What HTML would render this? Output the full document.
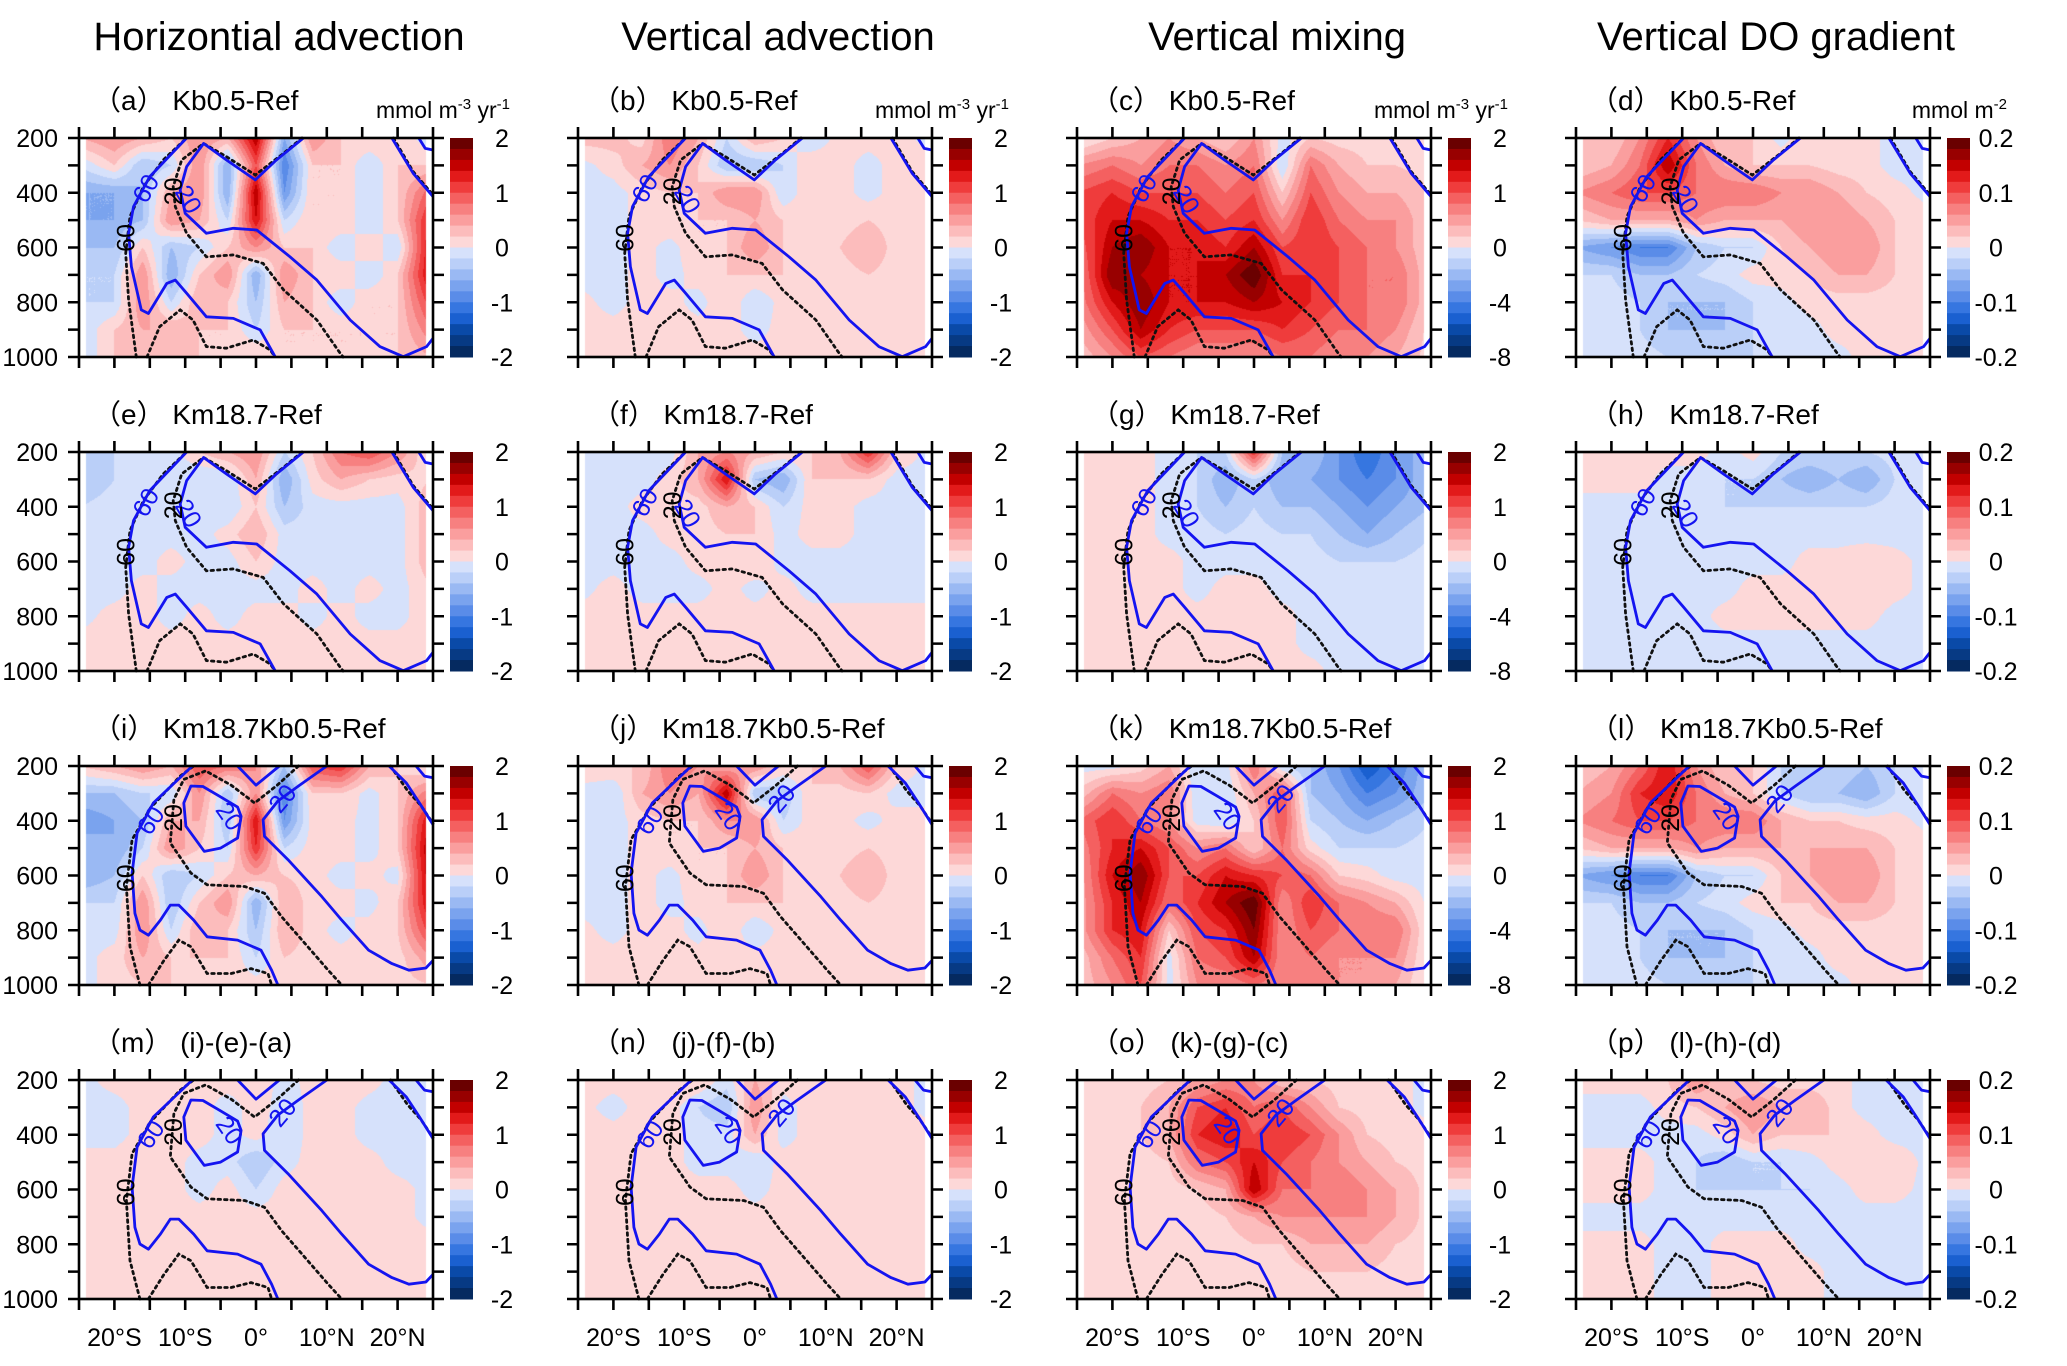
<!DOCTYPE html>
<html><head><meta charset="utf-8">
<style>
html,body{margin:0;padding:0;background:#fff;}
#wrap{position:relative;width:2067px;height:1366px;overflow:hidden;background:#fff;font-family:"Liberation Sans","Noto Sans CJK SC",sans-serif;}
canvas{position:absolute;}
svg{position:absolute;left:0;top:0;}
</style></head>
<body>
<div id="wrap">
<svg id="svg" width="2067" height="1366"></svg>
</div>
<script>
// grid axes
const LATS=[-25,-20,-16,-12,-8,-4,0,4,8,12,16,20,25];
const DEPTHS=[200,300,400,500,600,700,800,900,1000];
// field values in colorbar levels (-10..10 = colorbar min..max)
const levels_a=[[2,3,2,1,3,2,8,-3,3,1,1,1,-1],[-1,1,-2,-1,3,-3,5,-5,1,1,-1,1,1],[-3,-3,-2,2,3,-3,8,-4,1,1,-1,1,5],[-3,-3,-2,3,2,-1,7,-1,1,1,-1,1,7],[-2,-2,1,-2,-1,1,3,1,1,-1,1,-1,8],[-1,-1,3,-3,1,3,-3,3,1,1,-1,1,8],[-1,-1,3,-1,2,1,-2,2,1,-1,1,1,6],[-1,1,2,2,1,1,-1,1,1,1,1,1,4],[-1,1,1,1,1,1,1,1,1,1,1,1,2]];
const levels_b=[[1.5,1.5,0.5,4,2,-1,2,1,-1,0.5,0.5,0.5,-0.5],[-0.5,0.5,2,3,1,-2,-2,-1,1,0.5,-0.5,0.5,0.5],[-0.5,-0.5,0.5,1,1,3,3,-1,1,0.5,-0.5,0.5,0.5],[-0.5,-0.5,0.5,1,1,1,2,1,1,0.5,1,0.5,0.5],[-0.5,-0.5,0.5,-0.5,1,1,3,1,0.5,1,2,0.5,0.5],[-0.5,-0.5,0.5,-0.5,0.5,1,1,1,0.5,0.5,1,0.5,0.5],[0.5,-0.5,0.5,0.5,-0.5,1,-1,0.5,0.5,0.5,0.5,0.5,0.5],[0.5,0.5,0.5,0.5,0.5,0.5,-0.5,0.5,0.5,0.5,0.5,0.5,0.5],[0.5,0.5,0.5,0.5,0.5,0.5,0.5,0.5,0.5,0.5,0.5,0.5,0.5]];
const levels_c=[[-0.5,1,2,3,2,1,3,-0.5,1,0.5,0.5,0.5,0.5],[3,4,3,4,4,3,4,-1,4,2,1,1,0.5],[5,6,5,5,5,4,5,1,5,3,2,2,1],[5,7,7,6,6,5,6,3,6,4,3,3,1],[4,8,9,7,7,6,8,5,6,5,4,3,1],[3,9,8,7,7,8,10,6,6,5,4,4,1],[3,7,9,7,7,7,8,7,6,5,4,4,1],[2,5,8,6,5,5,5,6,5,4,4,3,0.5],[1,3,5,4,3,3,3,4,4,3,3,2,0.5]];
const levels_d=[[1,1,3,6,3,1,1,-0.5,1,0.5,0.5,-0.5,-0.5],[1,2,4,8,4,2,1,1,1,0.5,0.5,-0.5,-0.5],[3,4,5,5,4,4,4,3,3,2,1,0.5,-0.5],[1,2,2,2,3,2,2,2,3,3,2,1,0.5],[-3,-4,-5,-5,-2,-1,-1,1,2,3,3,1,0.5],[-1,-1,-2,-2,-1,-0.5,0.5,0.5,1,2,2,1,0.5],[-0.5,-0.5,-1,-2,-2,-2,-1,-0.5,0.5,0.5,0.5,0.5,0.5],[-0.5,-0.5,-1,-2,-2,-2,-1,-1,-0.5,0.5,0.5,0.5,0.5],[-0.5,-0.5,-0.5,-1,-1,-1,-1,-0.5,-0.5,-0.5,0.5,0.5,0.5]];
const levels_e=[[-1,-1,-0.5,-0.5,1,2,3,-1,1,4,5,3,-0.5],[-2,-1,-1,-0.5,-1,-1,2,-3,0.5,2,1,0.5,1],[-1,-0.5,-0.5,-0.5,-0.5,-1,1,-2,-0.5,-0.5,-0.5,-0.5,2],[-0.5,-0.5,-0.5,-0.5,-0.5,0.5,2,-0.5,-0.5,-0.5,-0.5,-0.5,2],[-0.5,-0.5,-0.5,0.5,-0.5,-0.5,1,-0.5,-0.5,-0.5,-0.5,-0.5,2],[-0.5,-0.5,0.5,-0.5,-0.5,-0.5,-0.5,-0.5,0.5,-0.5,0.5,-0.5,1],[-0.5,0.5,0.5,-0.5,0.5,-0.5,0.5,0.5,-0.5,0.5,-0.5,-0.5,1],[0.5,0.5,0.5,0.5,0.5,0.5,0.5,0.5,0.5,0.5,0.5,0.5,0.5],[0.5,0.5,0.5,0.5,0.5,0.5,0.5,0.5,0.5,0.5,0.5,0.5,0.5]];
const levels_f=[[-0.5,-0.5,-0.5,-0.5,2,3,2,1,1,2,6,1,-0.5],[-0.5,-0.5,-0.5,0.5,2,7,-2,-3,1,1,1,-0.5,-0.5],[-0.5,-0.5,0.5,0.5,0.5,2,1,-1,0.5,0.5,-0.5,-0.5,-0.5],[-0.5,-0.5,-0.5,0.5,0.5,1,1,-0.5,0.5,0.5,-0.5,-0.5,-0.5],[-0.5,-0.5,-0.5,-0.5,0.5,0.5,1,-0.5,-0.5,-0.5,-0.5,-0.5,-0.5],[-0.5,0.5,-0.5,-0.5,-0.5,0.5,-0.5,0.5,-0.5,-0.5,-0.5,-0.5,-0.5],[0.5,0.5,0.5,0.5,0.5,0.5,0.5,0.5,0.5,0.5,0.5,0.5,0.5],[0.5,0.5,0.5,0.5,0.5,0.5,0.5,0.5,0.5,0.5,0.5,0.5,0.5],[0.5,0.5,0.5,0.5,0.5,0.5,0.5,0.5,0.5,0.5,0.5,0.5,0.5]];
const levels_g=[[0.5,0.5,0.5,-0.5,-1,-1,6,-2,-2,-4,-6,-4,-2],[0.5,1,0.5,-0.5,-1,-3,-1,-3,-3,-4,-5,-4,-2],[0.5,1,0.5,-0.5,-1,-2,-1,-2,-2,-3,-4,-3,-2],[0.5,0.5,0.5,-0.5,-0.5,-1,-0.5,-1,-1,-2,-3,-2,-1],[0.5,0.5,0.5,0.5,-0.5,-0.5,-0.5,-0.5,-0.5,-1,-1,-1,-0.5],[0.5,0.5,0.5,0.5,-0.5,0.5,0.5,-0.5,-0.5,-0.5,-0.5,-0.5,-0.5],[0.5,0.5,1,0.5,0.5,0.5,0.5,0.5,-0.5,-0.5,-0.5,-0.5,-0.5],[0.5,0.5,0.5,0.5,0.5,0.5,0.5,0.5,-0.5,-0.5,-0.5,-0.5,-0.5],[0.5,0.5,0.5,0.5,0.5,0.5,0.5,0.5,0.5,-0.5,-0.5,-0.5,-0.5]];
const levels_h=[[0.5,0.5,0.5,0.5,0.5,-0.5,0.5,-1,-1,-1,-1,-0.5,-0.5],[0.5,0.5,0.5,-0.5,-0.5,-1,-1,-2,-3,-2,-3,-1,-0.5],[-0.5,-0.5,-0.5,-0.5,-0.5,-1,-1,-1,-1,-1,-1,-0.5,-0.5],[-0.5,-0.5,-0.5,-0.5,-0.5,-0.5,-0.5,-0.5,-0.5,-0.5,-0.5,-0.5,-0.5],[-0.5,-0.5,-0.5,-0.5,-0.5,-0.5,-0.5,-0.5,0.5,0.5,1,0.5,-0.5],[-0.5,-0.5,-0.5,-0.5,-0.5,-0.5,0.5,0.5,0.5,0.5,1,0.5,-0.5],[-0.5,-0.5,-0.5,-0.5,-0.5,0.5,0.5,0.5,0.5,0.5,0.5,-0.5,-0.5],[-0.5,-0.5,-0.5,-0.5,-0.5,-0.5,-0.5,-0.5,-0.5,-0.5,-0.5,-0.5,-0.5],[-0.5,-0.5,-0.5,-0.5,-0.5,-0.5,-0.5,-0.5,-0.5,-0.5,-0.5,-0.5,-0.5]];
const levels_i=[[1,2,3,2,5,4,3,-2,5,6,2,1,-0.5],[-2,-2,-1,-1,3,-2,3,-5,1,1,-0.5,1,4],[-4,-3,-2,2,2,-2,7,-4,0.5,0.5,-0.5,1,8],[-2,-3,-1,3,1,-1,6,-1,0.5,0.5,-0.5,1,9],[-3,-2,1,-2,-1,1,2,1,0.5,-0.5,0.5,-0.5,9],[-1,-1,3,-2,1,3,-3,2,0.5,0.5,-0.5,1,8],[-0.5,-0.5,3,-1,2,1,-2,2,0.5,-0.5,0.5,1,6],[-0.5,0.5,2,1,1,1,-1,1,0.5,0.5,0.5,0.5,3],[-0.5,0.5,1,1,0.5,0.5,0.5,0.5,0.5,0.5,0.5,0.5,1]];
const levels_j=[[1,1,1,4,3,2,3,1,1,2,5,1,-0.5],[-0.5,-1,2,3,2,8,-2,-2,1,0.5,1,-0.5,-0.5],[-0.5,-0.5,0.5,1,1,3,3,-1,0.5,0.5,-0.5,0.5,0.5],[-0.5,-0.5,0.5,1,1,1,2,1,0.5,0.5,1,0.5,0.5],[-0.5,-0.5,0.5,-0.5,1,1,3,1,0.5,1,2,0.5,0.5],[-0.5,-0.5,0.5,-0.5,0.5,1,1,1,0.5,0.5,1,0.5,0.5],[0.5,-0.5,0.5,0.5,-0.5,1,-1,0.5,0.5,0.5,0.5,0.5,0.5],[0.5,0.5,0.5,0.5,0.5,0.5,0.5,0.5,0.5,0.5,0.5,0.5,0.5],[0.5,0.5,0.5,0.5,0.5,0.5,0.5,0.5,0.5,0.5,0.5,0.5,0.5]];
const levels_k=[[-0.5,-0.5,0.5,2,-1,-0.5,4,-1,-2,-4,-7,-5,-2],[1,4,3,4,-1,-1,2,5,-2,-3,-5,-4,-2],[4,6,4,3,-0.5,-1,1,5,-1,-2,-3,-2,-1],[3,6,7,5,3,4,1,4,0.5,-1,-1,-1,-0.5],[2,7,9,5,5,7,6,5,4,1,0.5,-0.5,-0.5],[2,6,8,4,6,8,10,3,6,4,3,2,-0.5],[2,6,7,1,5,6,9,3,5,4,4,4,-0.5],[1,4,6,-0.5,4,5,8,3,4,3,3,3,-0.5],[1,3,5,-0.5,3,3,4,3,3,3,3,2,-0.5]];
const levels_l=[[1,2,4,7,3,1,1,-1,-1,-1,-2,-1,-0.5],[2,3,6,7,4,2,1,-1,-2,-2,-3,-1,-0.5],[3,4,5,5,4,4,4,2,1,1,0.5,0.5,-0.5],[1,2,2,2,3,2,2,2,2,2,2,1,0.5],[-3,-4,-5,-5,-2,-1,-1,1,2,3,3,1,0.5],[-1,-1,-2,-2,-1,-0.5,0.5,1,1,2,2,1,0.5],[-0.5,-0.5,-1,-2,-2,-2,-1,-0.5,0.5,0.5,0.5,0.5,0.5],[-0.5,-0.5,-1,-2,-2,-2,-1,-1,-0.5,0.5,0.5,0.5,0.5],[-0.5,-0.5,-0.5,-1,-1,-1,-1,-0.5,-0.5,-0.5,0.5,0.5,0.5]];
const levels_m=[[-0.5,0.5,0.5,1,0.5,1,1,-0.5,0.5,1,0.5,-0.5,-0.5],[-0.5,-0.5,0.5,1,1,-1,1,-1,0.5,0.5,-0.5,-0.5,-0.5],[-0.5,-0.5,0.5,0.5,0.5,-0.5,0.5,-1,0.5,0.5,-0.5,-0.5,-0.5],[0.5,0.5,1,0.5,-0.5,-0.5,-2,-0.5,0.5,0.5,0.5,-0.5,-0.5],[0.5,0.5,1,0.5,-0.5,0.5,-1,0.5,0.5,0.5,0.5,0.5,-0.5],[0.5,0.5,1,0.5,0.5,0.5,0.5,0.5,0.5,0.5,0.5,0.5,-0.5],[0.5,0.5,0.5,0.5,0.5,0.5,0.5,0.5,0.5,0.5,0.5,0.5,0.5],[0.5,0.5,0.5,0.5,0.5,0.5,0.5,0.5,0.5,0.5,0.5,0.5,0.5],[0.5,0.5,0.5,0.5,0.5,0.5,0.5,0.5,0.5,0.5,0.5,0.5,0.5]];
const levels_n=[[0.5,0.5,0.5,1,1,-0.5,2,0.5,1,0.5,0.5,0.5,-0.5],[0.5,-0.5,0.5,0.5,-1,-2,3,-0.5,0.5,0.5,0.5,0.5,-0.5],[0.5,0.5,0.5,0.5,-0.5,-0.5,2,-0.5,0.5,0.5,0.5,0.5,0.5],[0.5,0.5,0.5,0.5,-0.5,-0.5,-1,0.5,0.5,0.5,0.5,0.5,0.5],[0.5,0.5,0.5,0.5,0.5,0.5,-0.5,0.5,0.5,0.5,0.5,0.5,0.5],[0.5,0.5,0.5,0.5,0.5,0.5,0.5,0.5,0.5,0.5,0.5,0.5,0.5],[0.5,0.5,0.5,0.5,0.5,0.5,0.5,0.5,0.5,0.5,0.5,0.5,0.5],[0.5,0.5,0.5,0.5,0.5,0.5,0.5,0.5,0.5,0.5,0.5,0.5,0.5],[0.5,0.5,0.5,0.5,0.5,0.5,0.5,0.5,0.5,0.5,0.5,0.5,0.5]];
const levels_o=[[0.5,0.5,0.5,1,2,3,3,1,1,0.5,0.5,0.5,-0.5],[0.5,0.5,1,2,5,6,4,5,3,1,0.5,0.5,-0.5],[0.5,0.5,1,2,6,7,5,6,5,3,1,0.5,0.5],[0.5,0.5,0.5,1,4,5,7,5,4,3,2,1,0.5],[0.5,0.5,0.5,0.5,1,2,8,4,4,4,3,2,0.5],[0.5,0.5,0.5,0.5,0.5,1,2,3,3,3,3,2,0.5],[0.5,0.5,0.5,0.5,0.5,0.5,1,1,2,2,2,1,0.5],[0.5,0.5,0.5,0.5,0.5,0.5,0.5,0.5,1,1,1,0.5,0.5],[0.5,0.5,0.5,0.5,0.5,0.5,0.5,0.5,0.5,0.5,0.5,0.5,0.5]];
const levels_p=[[0.5,0.5,0.5,1,3,1,1,0.5,0.5,0.5,-0.5,-0.5,-0.5],[-0.5,-0.5,-0.5,0.5,1,2,3,2,2,0.5,-0.5,-0.5,-0.5],[-0.5,-0.5,-0.5,-0.5,-0.5,0.5,2,1,1,1,0.5,-0.5,-0.5],[0.5,0.5,0.5,-0.5,-1,-2,-1,-1,-0.5,0.5,1,1,-0.5],[0.5,0.5,0.5,-0.5,-1,-1,-1,-1,-1,-0.5,0.5,0.5,-0.5],[-0.5,-0.5,-0.5,-0.5,-0.5,-0.5,-0.5,-0.5,-0.5,-0.5,-0.5,-0.5,-0.5],[0.5,0.5,0.5,-0.5,-0.5,0.5,0.5,0.5,-0.5,-0.5,-0.5,-0.5,-0.5],[0.5,0.5,0.5,-0.5,-0.5,0.5,0.5,0.5,0.5,-0.5,-0.5,-0.5,-0.5],[0.5,0.5,0.5,-0.5,-0.5,0.5,0.5,0.5,0.5,-0.5,-0.5,-0.5,-0.5]];
const panelLevels=[levels_a,levels_b,levels_c,levels_d,levels_e,levels_f,levels_g,levels_h,levels_i,levels_j,levels_k,levels_l,levels_m,levels_n,levels_o,levels_p];
const panelLetters=["a","b","c","d","e","f","g","h","i","j","k","l","m","n","o","p"];
const rowNames=["Kb0.5-Ref","Km18.7-Ref","Km18.7Kb0.5-Ref"];
const diffNames=["(i)-(e)-(a)","(j)-(f)-(b)","(k)-(g)-(c)","(l)-(h)-(d)"];
const columnTitles=["Horizontial advection","Vertical advection","Vertical mixing","Vertical DO gradient"];
const yTicks=[200,400,600,800,1000];
const xTicks=[-20,-10,0,10,20];
const xTickLabels=["20°S","10°S","0°","10°N","20°N"];
const cbLabels12=["2","1","0","-1","-2"];
const cbLabelsMix=["2","1","0","-4","-8"];
const cbLabels4=["0.2","0.1","0","-0.1","-0.2"];
// contours, set A (rows 1-2) [lat, depth]
const A_blue60=[[-9.8,200],[-15,341],[-17.3,451],[-18,548],[-17.6,670],[-16.2,828],[-15.2,841],[-12.6,731],[-11.4,719],[-9.8,767],[-7,853],[-3.2,859],[0.6,901],[2.7,999]];
const A_blue20=[[6.7,200],[2.9,280],[-0.1,353],[-4.2,280],[-7.4,220],[-9.8,305],[-10.7,390],[-10,475],[-7,548],[-3.2,530],[0.1,536],[4.8,634],[8.6,719],[13.3,865],[17.5,962],[20.8,999],[24.1,962],[25,932]];
const A_blueR1=[[19.2,200],[22.2,329],[24.6,402],[25,414]];
const A_blueR2=[[23,200],[23.9,238],[25,244]];
const A_dot60=[[-16.9,1000],[-18,792],[-18.4,621],[-17.8,487],[-15.9,378],[-13.1,280],[-9.8,200]];
const A_dotB=[[-15.4,1000],[-13.6,889],[-10.7,828],[-8.9,865],[-7,962],[-4.2,968],[-0.4,938],[2,974],[2.7,1000]];
const A_dot20=[[6.5,200],[3.9,256],[-0.1,335],[-4.2,268],[-7.4,220],[-10.5,280],[-11.7,378],[-11.4,451],[-9.8,548],[-7,634],[-3.2,627],[1,658],[3.9,755],[8.6,865],[11.9,987],[12.3,1000]];
const A_dotR=[[19.4,200],[22.2,323],[25,408]];
// contours, set B (rows 3-4)
const B_blue60=[[-9,200],[-14.5,335],[-16.8,445],[-17.5,591],[-17.1,738],[-16.4,799],[-15.2,818],[-13.5,763],[-12.1,708],[-10.9,708],[-8.8,763],[-6.9,824],[-2.6,836],[0.7,873],[2.2,946],[3.1,1000]];
const B_loop=[[-5.2,310],[-7.5,275],[-9.2,273],[-10.2,335],[-9.9,420],[-7.3,512],[-5,500],[-2.6,463],[-2.1,384],[-2.6,350],[-5.2,310]];
const B_blue20=[[10,200],[6,273],[3.1,328],[1,396],[1.2,457],[4.5,542],[9.3,677],[12.1,763],[15.9,873],[19.2,922],[21.6,946],[24,938],[25,910]];
const B_blueV=[[-2.6,200],[0,270],[3.3,200]];
const B_blueR1=[[18.8,200],[21.2,261],[23.1,335],[25,414]];
const B_blueR2=[[22.6,200],[23.8,237],[25,243]];
const B_dot60=[[-16.4,1000],[-17.8,860],[-18.3,640],[-17.5,469],[-14.9,353],[-10.7,237],[-8.8,200]];
const B_dotB=[[-15.2,1000],[-13,910],[-10.9,836],[-9.2,860],[-6.9,958],[-3.5,958],[-0.7,940],[1.7,958],[2.2,1000]];
const B_dot20=[[6,200],[3,270],[-0.2,335],[-3.5,270],[-7.1,218],[-10.2,249],[-11.6,322],[-12.1,481],[-9.2,591],[-6.9,634],[-1.6,640],[1.2,665],[3.6,750],[6.9,848],[10.2,946],[12.1,1000]];
const B_dotR=[[19,200],[21.4,290],[23.3,345],[25,410]];

const PAL_POS=["#fdd8d8","#fcbcbc","#fa9e9e","#f78080","#f46060","#ef3c3c","#e21a1a","#c20000","#980000","#6a0000"];
const PAL_NEG=["#d6e1fb","#bacff8","#9ab9f3","#7aa3ee","#5a8ce8","#3676e0","#1a60d0","#0a4aa8","#073a84","#052a60"];
function colorOf(v){
  if(v>0){let i=Math.min(9,Math.ceil(v)-1);return PAL_POS[i];}
  let i=Math.min(9,Math.floor(-v));return PAL_NEG[i];
}
function hexRGB(h){return [parseInt(h.substr(1,2),16),parseInt(h.substr(3,2),16),parseInt(h.substr(5,2),16)];}
const PW=354,PH=219;
function plotLeft(c){return 79+499*c;}
function plotTop(r){return 138+314*r;}
function xScale(lat,c){return plotLeft(c)+(lat+25)/50*PW;}
function yScale(d,r){return plotTop(r)+(d-200)/800*PH;}
function sample(grid,lat,dep){
  let i=0;while(i<LATS.length-2&&lat>LATS[i+1])i++;
  let j=0;while(j<DEPTHS.length-2&&dep>DEPTHS[j+1])j++;
  let tx=(lat-LATS[i])/(LATS[i+1]-LATS[i]);tx=Math.max(0,Math.min(1,tx));
  let ty=(dep-DEPTHS[j])/(DEPTHS[j+1]-DEPTHS[j]);ty=Math.max(0,Math.min(1,ty));
  const a=grid[j][i],b=grid[j][i+1],c=grid[j+1][i],d=grid[j+1][i+1];
  return a*(1-tx)*(1-ty)+b*tx*(1-ty)+c*(1-tx)*ty+d*tx*ty;
}
const wrap=document.getElementById('wrap');
const svg=document.getElementById('svg');
const NS="http://www.w3.org/2000/svg";
function mk(tag,attrs,parent){const e=document.createElementNS(NS,tag);for(const k in attrs)e.setAttribute(k,attrs[k]);(parent||svg).appendChild(e);return e;}

// titles
for(let c=0;c<4;c++){
  const t=mk('text',{x:plotLeft(c)+200,y:50,'font-size':40,'text-anchor':'middle',fill:'#000'});
  t.textContent=columnTitles[c];
  
  
}
for(let r=0;r<4;r++){
  for(let c=0;c<4;c++){
    const p=r*4+c;const grid=panelLevels[p];
    const L=plotLeft(c),T=plotTop(r);
    const cv=document.createElement('canvas');
    cv.width=PW;cv.height=PH;cv.style.left=L+'px';cv.style.top=T+'px';
    
    
    wrap.insertBefore(cv,svg);
    const ctx=cv.getContext('2d');const img=ctx.createImageData(PW,PH);
    for(let py=0;py<PH;py++){const dep=200+(py+0.5)/PH*800;
      for(let px=0;px<PW;px++){const lat=-25+(px+0.5)/PW*50;
        let rgb=[255,255,255];
        if(Math.abs(lat)<=24&&dep<=995)rgb=hexRGB(colorOf(sample(grid,lat,dep)));
        const k=(py*PW+px)*4;img.data[k]=rgb[0];img.data[k+1]=rgb[1];img.data[k+2]=rgb[2];img.data[k+3]=255;}}
    ctx.putImageData(img,0,0);
    const g=mk('g',{});
    
    
    const setA=r<2;
    const blues=setA?[A_blue60,A_blue20,A_blueR1,A_blueR2]:[B_blue60,B_loop,B_blue20,B_blueV,B_blueR1,B_blueR2];
    const dots=setA?[A_dot60,A_dotB,A_dot20,A_dotR]:[B_dot60,B_dotB,B_dot20,B_dotR];
    for(const ln of dots){
      const pl=mk('polyline',{points:ln.map(q=>xScale(q[0],c).toFixed(1)+','+yScale(q[1],r).toFixed(1)).join(' '),fill:'none',stroke:'#111','stroke-width':2.8,'stroke-dasharray':'2.5,4','stroke-linecap':'round'},g);
      
      
    }
    for(const ln of blues){
      const pl=mk('polyline',{points:ln.map(q=>xScale(q[0],c).toFixed(1)+','+yScale(q[1],r).toFixed(1)).join(' '),fill:'none',stroke:'#1414f0','stroke-width':2.8,'stroke-linejoin':'round'},g);
      
      
    }
    const labs=setA?[["60",-15.5,385,-60,'#1414f0'],["20",-9.6,425,60,'#1414f0'],["20",-11.6,395,-90,'#000'],["60",-18.3,565,-90,'#000']]
                   :[["60",-14.8,400,-55,'#1414f0'],["20",-11.6,390,-90,'#000'],["60",-18.3,610,-90,'#000'],["20",-3.8,385,55,'#1414f0'],["20",3.8,320,-50,'#1414f0']];
    for(const lb of labs){
      const x=xScale(lb[1],c),y=yScale(lb[2],r);
      const t=mk('text',{x:x,y:y+8,'font-size':25,'text-anchor':'middle',fill:lb[4],transform:'rotate('+lb[3]+' '+x+' '+y+')'},g);
      t.textContent=lb[0];
      
      
    }
    const fr=mk('rect',{x:L,y:T,width:PW,height:PH,fill:'none',stroke:'#000','stroke-width':2.6},g);
    
    
    let dpath='';
    for(let d=200;d<=1000;d+=100){const y=yScale(d,r);dpath+=`M${L-11},${y}H${L}M${L+PW},${y}H${L+PW+11}`;}
    for(let lat=-25;lat<=25;lat+=5){const x=xScale(lat,c);dpath+=`M${x},${T-11}V${T}M${x},${T+PH}V${T+PH+11}`;}
    const tk=mk('path',{d:dpath,stroke:'#000','stroke-width':2.6,fill:'none'},g);
    
    
    if(c===0){
      for(const d of yTicks){
        const t=mk('text',{x:L-21,y:yScale(d,r)+9,'font-size':25,'text-anchor':'end',fill:'#000'},g);
        t.textContent=String(d);
        
        
      }
    }
    if(r===3){
      for(let k=0;k<xTicks.length;k++){
        const t=mk('text',{x:xScale(xTicks[k],c),y:T+PH+47,'font-size':25,'text-anchor':'middle',fill:'#000'},g);
        t.textContent=xTickLabels[k];
        
        
      }
    }
    const pt=mk('text',{x:L+14,y:T-28,'font-size':28,fill:'#000'},g);
    pt.textContent='（'+panelLetters[p]+'） '+(r<3?rowNames[r]:diffNames[c]);
    
    
    const cbx=L+371,cbw=23;
    for(let k=0;k<20;k++){
      const col=k<10?PAL_POS[9-k]:PAL_NEG[k-10];
      const rc=mk('rect',{x:cbx,y:T+k*PH/20,width:cbw,height:PH/20+0.5,fill:col},g);
      
      
    }
    const labsCb=c===3?cbLabels4:(c===2&&r<3?cbLabelsMix:cbLabels12);
    for(let k=0;k<5;k++){
      const t=mk('text',{x:cbx+cbw+(c===3?26:29),y:T+k*PH/4+9,'font-size':25,'text-anchor':'middle',fill:'#000'},g);
      t.textContent=labsCb[k];
      
      
    }
    if(r===0){
      const u=mk('text',{x:cbx+cbw+37,y:T-20,'font-size':23,'text-anchor':'end',fill:'#000'},g);
      if(c<3){u.innerHTML='mmol m<tspan dy="-9" font-size="15">-3</tspan><tspan dy="9"> yr</tspan><tspan dy="-9" font-size="15">-1</tspan>';}
      else{u.innerHTML='mmol m<tspan dy="-9" font-size="15">-2</tspan>';}
      
      
    }
  }
}
</script>
</body></html>
